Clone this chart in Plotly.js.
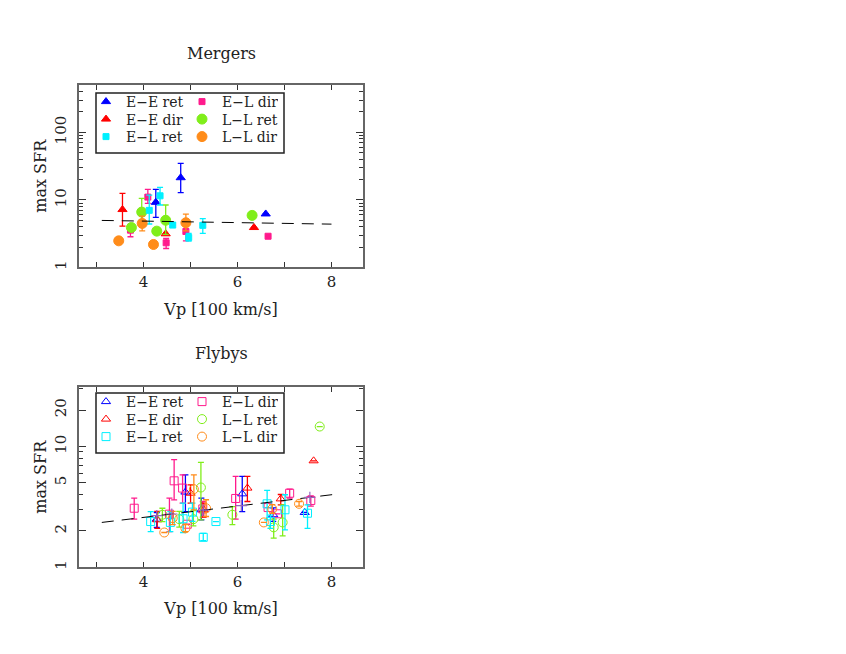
<!DOCTYPE html>
<html>
<head>
<meta charset="utf-8">
<script src="https://cdn.plot.ly/plotly-3.0.1.min.js"></script>
<style>
  body { margin: 0; background: #fff; }
  #plot { width: 846px; height: 654px; }
</style>
</head>
<body>
<div id="plot"></div>
<script>
// ---- Mergers (top panel) ----
var mEEretX = [4.26, 4.79, 6.60];
var mEEretY = [9.2, 21.3, 6.2];
var mEEretHi = [14.3, 34.8, null];
var mEEretLo = [5.5, 12.8, null];

var mEEdirX = [3.55, 4.47, 6.35];
var mEEdirY = [7.2, 3.15, 3.9];
var mEEdirHi = [12.5, null, null];
var mEEdirLo = [4.1, null, null];

var mELretX = [4.12, 4.35, 4.62, 4.96, 5.26];
var mELretY = [7.0, 11.5, 4.24, 2.78, 4.2];
var mELretHi = [11.8, 15.3, null, 3.2, 5.3];
var mELretLo = [4.4, 8.4, null, 2.45, 3.2];

var mELdirX = [3.72, 4.09, 4.48, 4.90, 6.65];
var mELdirY = [3.57, 11.0, 2.32, 3.41, 2.9];
var mELdirHi = [4.33, 14.3, 2.69, 4.75, null];
var mELdirLo = [2.85, 8.9, 1.91, 2.48, null];

var mLLretX = [3.74, 3.96, 4.28, 4.47, 6.31];
var mLLretY = [3.9, 6.6, 3.45, 5.0, 5.9];
var mLLretHi = [4.3, 10.5, null, 8.4, 6.7];
var mLLretLo = [3.6, 5.0, null, 3.1, 5.3];

var mLLdirX = [3.47, 3.97, 4.21, 4.90];
var mLLdirY = [2.48, 4.49, 2.19, 4.59];
var mLLdirHi = [null, 5.76, null, 6.17];
var mLLdirLo = [null, 3.49, null, 3.49];

var mFitX = [3.11, 8.0];
var mFitY = [4.97, 4.38];

// ---- Flybys (bottom panel) ----
var fEEretX = [4.28, 4.89, 5.23, 6.10, 6.76, 7.43];
var fEEretY = [2.5, 4.19, 2.99, 4.05, 2.72, 2.84];
var fEEretHi = [2.84, 5.82, 3.73, 5.64, 3.1, null];
var fEEretLo = [2.14, 2.89, 2.47, 2.89, 2.4, null];

var fEEdirX = [4.29, 5.0, 5.28, 6.21, 6.92, 7.62];
var fEEdirY = [2.47, 4.1, 2.99, 4.52, 3.68, 7.6];
var fEEdirHi = [2.9, 4.81, 3.4, 5.64, 4.0, null];
var fEEdirLo = [2.1, 3.39, 2.6, 3.5, 3.28, null];

var fELretX = [4.15, 4.57, 4.84, 5.04, 5.27, 5.54, 6.63, 6.70, 7.01, 7.49];
var fELretY = [2.39, 2.35, 2.52, 2.86, 1.77, 2.39, 3.35, 2.39, 2.99, 2.8];
var fELretHi = [2.89, 2.89, 3.39, 3.39, 1.91, null, 4.32, 2.7, 3.98, 3.28];
var fELretLo = [1.97, 1.97, 1.94, 2.4, 1.66, null, 2.47, 2.1, 2.04, 2.1];

var fELdirX = [3.80, 4.55, 4.65, 4.83, 4.93, 5.26, 5.96, 6.65, 6.85, 7.11, 7.56];
var fELdirY = [3.08, 2.75, 5.19, 4.52, 2.27, 3.04, 3.71, 3.12, 2.77, 4.10, 3.57];
var fELdirHi = [3.73, 3.73, 7.76, 5.82, null, 3.5, 5.64, null, null, 4.43, 3.9];
var fELdirLo = [2.5, 1.97, 3.61, 3.39, null, 2.6, 2.5, null, null, 3.73, 3.2];

var fLLretX = [4.40, 4.76, 5.06, 5.22, 5.89, 6.77, 6.96, 7.75];
var fLLretY = [2.72, 2.5, 2.5, 4.57, 2.72, 2.14, 2.35, 14.6];
var fLLretHi = [3.08, 2.9, 2.95, 7.37, 3.18, 2.5, 3.28, null];
var fLLretLo = [2.39, 2.15, 2.2, 2.47, 2.25, 1.74, 1.82, null];

var fLLdirX = [4.44, 4.62, 4.89, 5.07, 5.33, 6.56, 6.74, 7.31];
var fLLdirY = [1.94, 2.55, 2.1, 4.43, 3.08, 2.35, 3.04, 3.35];
var fLLdirHi = [null, 2.9, 2.25, 5.82, 3.62, null, 3.3, 3.5];
var fLLdirLo = [null, 2.25, 1.97, 2.99, 2.63, null, 2.8, 3.2];

var fFitX = [3.11, 8.16];
var fFitY = [2.35, 4.05];

var fBinX = [4.28, 4.6, 5.27, 6.08, 7.54];
var fBinY = [2.67, 2.76, 2.97, 3.24, 3.78];

var xTickVals = [3, 4, 5, 6, 7, 8];
var xTickText = ["", "4", "", "6", "", "8"];

var FONT = "DejaVu Serif, Liberation Serif, serif";
var W = 846, H = 654;

// error bar arrays (distance from the point)
function errUp(y, hi) {
    return y.map((v, i) => hi[i] == null ? null : hi[i] - v);
}
function errDown(y, lo) {
    return y.map((v, i) => lo[i] == null ? null : v - lo[i]);
}

function series(name, x, y, hi, lo, color, symbol, size, xa, ya, legend) {
    return {
        x: x, y: y, name: name,
        type: "scatter", mode: "markers",
        xaxis: xa, yaxis: ya, legend: legend,
        marker: { color: color, symbol: symbol, size: size, line: { color: color, width: 1 } },
        error_y: {
            type: "data", symmetric: false,
            array: errUp(y, hi), arrayminus: errDown(y, lo),
            color: color, thickness: 1.3, width: 3
        }
    };
}

var BLUE = "#0000ff", RED = "#ff0000", CYAN = "#00f0ff",
    PINK = "#ff1a8c", GREEN = "#80ee1a", ORANGE = "#ff8c1a";

// one horizontal legend per row, two entries each
var plot_data = [
    series("E\u2212E ret", mEEretX, mEEretY, mEEretHi, mEEretLo, BLUE, "triangle-up", 8, "x", "y", "legend"),
    series("E\u2212L dir", mELdirX, mELdirY, mELdirHi, mELdirLo, PINK, "square", 6, "x", "y", "legend"),
    series("E\u2212E dir", mEEdirX, mEEdirY, mEEdirHi, mEEdirLo, RED, "triangle-up", 8, "x", "y", "legend2"),
    series("L\u2212L ret", mLLretX, mLLretY, mLLretHi, mLLretLo, GREEN, "circle", 10, "x", "y", "legend2"),
    series("E\u2212L ret", mELretX, mELretY, mELretHi, mELretLo, CYAN, "square", 6, "x", "y", "legend3"),
    series("L\u2212L dir", mLLdirX, mLLdirY, mLLdirHi, mLLdirLo, ORANGE, "circle", 10, "x", "y", "legend3"),
    {
        x: mFitX, y: mFitY, xaxis: "x", yaxis: "y", mode: "lines", showlegend: false,
        line: { color: "black", dash: "12px,8px", width: 1 }
    },

    series("E\u2212E ret", fEEretX, fEEretY, fEEretHi, fEEretLo, BLUE, "triangle-up-open", 8, "x2", "y2", "legend4"),
    series("E\u2212L dir", fELdirX, fELdirY, fELdirHi, fELdirLo, PINK, "square-open", 8, "x2", "y2", "legend4"),
    series("E\u2212E dir", fEEdirX, fEEdirY, fEEdirHi, fEEdirLo, RED, "triangle-up-open", 8, "x2", "y2", "legend5"),
    series("L\u2212L ret", fLLretX, fLLretY, fLLretHi, fLLretLo, GREEN, "circle-open", 9, "x2", "y2", "legend5"),
    series("E\u2212L ret", fELretX, fELretY, fELretHi, fELretLo, CYAN, "square-open", 8, "x2", "y2", "legend6"),
    series("L\u2212L dir", fLLdirX, fLLdirY, fLLdirHi, fLLdirLo, ORANGE, "circle-open", 9, "x2", "y2", "legend6"),
    {
        x: fFitX, y: fFitY, xaxis: "x2", yaxis: "y2", mode: "lines", showlegend: false,
        line: { color: "black", dash: "12px,8px", width: 1 }
    },
    {
        x: fBinX, y: fBinY, xaxis: "x2", yaxis: "y2", mode: "markers", showlegend: false,
        marker: { symbol: "cross-thin-open", size: 8, line: { color: "black", width: 1.2 } }
    }
];

function xAxis(anchor) {
    return {
        anchor: anchor, domain: [0.0937, 0.429], range: [2.63, 8.67],
        tickvals: xTickVals, ticktext: xTickText,
        ticks: "inside", ticklen: 5, tickwidth: 1, tickcolor: "#333",
        showline: true, linecolor: "#666", linewidth: 2, mirror: "allticks",
        showgrid: false, zeroline: false,
        tickfont: { family: FONT, size: 15, color: "#222" },
        title: { text: "Vp [100 km/s]", font: { family: FONT, size: 16, color: "#222" }, standoff: 13 }
    };
}

function yAxis(anchor, domain, range, major, minor) {
    return {
        anchor: anchor, domain: domain, type: "log", range: range,
        tickvals: major, ticks: "inside", ticklen: 7, tickwidth: 1, tickcolor: "#333",
        minor: { tickvals: minor, ticks: "inside", ticklen: 4, tickcolor: "#333", showgrid: false },
        tickangle: -90, ticklabelstandoff: 5,
        showline: true, linecolor: "#666", linewidth: 2, mirror: "allticks",
        showgrid: false, zeroline: false,
        tickfont: { family: FONT, size: 15, color: "#222" },
        title: { text: "max SFR", font: { family: FONT, size: 16, color: "#222" }, standoff: 2 }
    };
}

function legendRow(ypx) {
    return {
        x: 86 / W, y: 1 - ypx / H, xanchor: "left", yanchor: "middle",
        orientation: "h", entrywidth: 51, entrywidthmode: "pixels",
        bgcolor: "rgba(0,0,0,0)", borderwidth: 0,
        font: { family: FONT, size: 14, color: "#222" },
        itemwidth: 30
    };
}

function legendBox(top, bottom) {
    return {
        type: "rect", xref: "paper", yref: "paper",
        x0: 96 / W, x1: 284 / W, y0: 1 - top / H, y1: 1 - bottom / H,
        line: { color: "#222", width: 1.5 }, fillcolor: "white", layer: "above"
    };
}

var layout = {
    width: W, height: H,
    margin: { l: 0, r: 0, t: 0, b: 0, pad: 0 },
    paper_bgcolor: "white", plot_bgcolor: "white",
    xaxis: xAxis("y"),
    yaxis: yAxis("x", [0.591, 0.870], [0, 2.7], [1, 10, 100],
        [2, 3, 4, 5, 6, 7, 8, 9, 20, 30, 40, 50, 60, 70, 80, 90, 200, 300, 400, 500]),
    xaxis2: xAxis("y2"),
    yaxis2: yAxis("x2", [0.1326, 0.408], [0, 1.49], [1, 2, 5, 10, 20],
        [3, 4, 6, 7, 8, 9, 30]),
    legend: legendRow(102),
    legend2: legendRow(119.5),
    legend3: legendRow(137),
    legend4: legendRow(402),
    legend5: legendRow(419.5),
    legend6: legendRow(437),
    shapes: [legendBox(93, 153), legendBox(393, 453)],
    annotations: [
        { text: "Mergers", x: 0.2615, y: 1 - 53 / H, xref: "paper", yref: "paper", showarrow: false,
          xanchor: "center", yanchor: "middle", font: { family: FONT, size: 16, color: "#222" } },
        { text: "Flybys", x: 0.2615, y: 1 - 353 / H, xref: "paper", yref: "paper", showarrow: false,
          xanchor: "center", yanchor: "middle", font: { family: FONT, size: 16, color: "#222" } }
    ]
};

Plotly.newPlot("plot", plot_data, layout, { displayModeBar: false });
</script>
</body>
</html>
